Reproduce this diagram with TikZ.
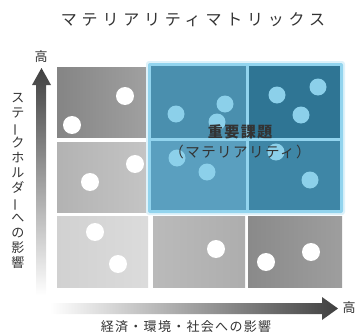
\documentclass[tikz,border=0pt]{standalone}
\usepackage{fontspec}
\setmainfont{Noto Sans CJK JP}
\newfontfamily\jplab[LetterSpace=10]{Noto Sans CJK JP}
\newfontfamily\jptitle[LetterSpace=30]{Noto Sans CJK JP}
\definecolor{txt}{HTML}{333333}
\definecolor{bborder}{HTML}{92D4EE}
\definecolor{bdot}{HTML}{8CD0EA}
\definecolor{btm}{HTML}{4A8FAE}
\definecolor{btr}{HTML}{2F7594}
\definecolor{bmm}{HTML}{5A9FBF}
\definecolor{bmr}{HTML}{3E86A6}
\definecolor{arrdark}{HTML}{404040}
\tikzset{
  wdot/.style={fill=white},
  bdotst/.style={fill=bdot},
  lab/.style={text=txt, inner sep=0pt, font=\jplab\fontsize{13}{15}\selectfont},
}
\begin{document}
\begin{tikzpicture}[x=1pt,y=-1pt]
\useasboundingbox (0,0) rectangle (357,332);
% title
\node[inner sep=0pt, text=txt, font=\jptitle\fontsize{16}{18}\selectfont] (title) at (193,20) {マテリアリティマトリックス};
% gray cells
\shade[left color=black!48, right color=black!37] (57,67) rectangle (148,137);
\shade[left color=black!30, right color=black!23] (57,142) rectangle (148,212);
\shade[left color=black!18, right color=black!14] (57,216) rectangle (148,287);
\shade[left color=black!27, right color=black!32] (153,216) rectangle (245,287);
\shade[left color=black!46, right color=black!38] (248,216) rectangle (342,287);
% blue block
\fill[bborder!30, rounded corners=3pt] (146,61) rectangle (345,215);
\fill[bborder, rounded corners=2pt] (148,63) rectangle (343,213);
\fill[btm] (151,66) rectangle (245.5,137.5);
\fill[btr] (248.5,66) rectangle (340,137.5);
\fill[bmm] (151,140.5) rectangle (245.5,210);
\fill[bmr] (248.5,140.5) rectangle (340,210);
% white dots
\foreach \p in {(125,96),(72,125),(135,164),(90,182),(95,232),(118,264),(216,249),(266,262),(311,252)}
  \fill[wdot] \p circle[radius=9pt];
% blue dots
\foreach \p in {(176,114),(225,104),(217,122),(277,95),(318,87),(301,115),(177,158),(207,172),(276,152),(310,180)}
  \fill[bdotst] \p circle[radius=8.5pt];
% center text
\node[lab, font=\jplab\fontsize{15}{17}\selectfont\bfseries] (key) at (240,132) {重要課題};
\node[lab, font=\jplab\fontsize{14.5}{17}\selectfont] (mat) at (240,152) {（マテリアリティ）};
% vertical arrow
\shade[bottom color=white, top color=arrdark] (36,295) -- (36,85) -- (32,85) -- (41.5,68) -- (51,85) -- (46,85) -- (46,295) -- cycle;
\node[lab] (vhigh) at (41,57) {高};
\node[lab, align=center, font=\fontsize{13}{15}\selectfont] (vlab) at (18,181) {ス\\テ\\\rotatebox[origin=c]{90}{ー}\\ク\\ホ\\ル\\ダ\\\rotatebox[origin=c]{90}{ー}\\へ\\の\\影\\響};
% horizontal arrow
\shade[left color=white, right color=arrdark] (50,303) -- (322,303) -- (322,297) -- (338,308.5) -- (322,320) -- (322,314) -- (50,314) -- cycle;
\node[lab] (hhigh) at (349,308) {高};
\node[lab] (hlab) at (186,327) {経済・環境・社会への影響};
\end{tikzpicture}
\end{document}
